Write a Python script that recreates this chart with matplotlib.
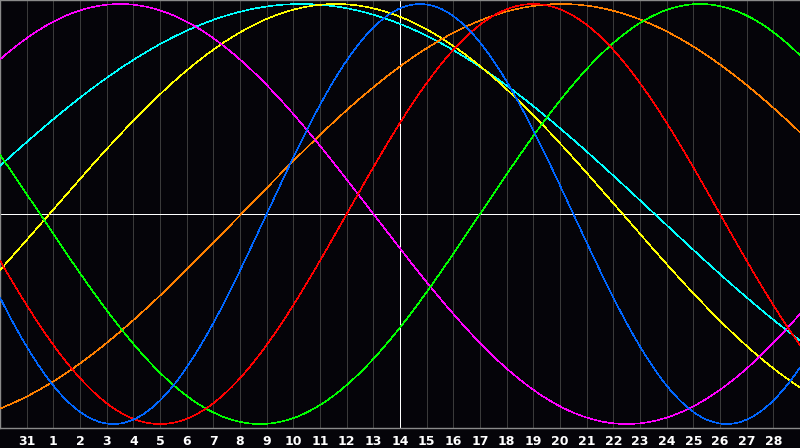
import numpy as np
import matplotlib
matplotlib.use("Agg")
import matplotlib.pyplot as plt

# Day labels under each grid line (positions 1..29 across a 30-day window)
day_labels = ["31"] + [str(d) for d in range(1, 29)]

# Cycles: period length (days) and position of the peak (in day-slots from left edge)
cycle_names = ["physical", "emotional", "intellectual", "intuitive", "aesthetic", "awareness", "spiritual"]
cycle_periods = [23, 28, 33, 38, 43, 48, 53]
cycle_peaks = [15.75, 20.0, 26.25, 4.5, 12.6, 21.05, 11.3]
cycle_colors = ["#0066ff", "#ff0000", "#00ff00", "#ff00ff", "#ffff00", "#ff8000", "#00ffff"]

BG = "#050409"

fig = plt.figure(figsize=(8, 4.48), dpi=100, facecolor=BG)
ax = fig.add_axes([0, 20 / 448, 1, 428 / 448])
ax.set_facecolor(BG)
ax.set_xlim(0, 30)
ax.set_ylim(-1.019, 1.019)

# grid
for i in range(1, 30):
    if i == 15:
        continue
    ax.axvline(i, color="#3a3a3a", lw=0.6, antialiased=False, zorder=1)
ax.axvline(15, color="white", lw=0.7, antialiased=False, zorder=1)
ax.axhline(0, color="white", lw=0.7, antialiased=False, zorder=1)

t = np.linspace(0, 30, 401)
order = [6, 4, 5, 3, 2, 1, 0]
for k in order:
    y = np.cos(2 * np.pi * (t - cycle_peaks[k]) / cycle_periods[k])
    ax.plot(t, y, color=cycle_colors[k], lw=0.4, antialiased=False, zorder=3)

for s in ["left", "top", "bottom"]:
    ax.spines[s].set_color("#8a8a8a")
    ax.spines[s].set_linewidth(1.0)
ax.spines["right"].set_visible(False)

ax.set_xticks(range(1, 30))
ax.set_xticklabels(day_labels)
ax.tick_params(axis="x", length=0, pad=5, colors="white", labelsize=9)
for lab in ax.get_xticklabels():
    lab.set_fontweight("bold")
    lab.set_family("DejaVu Sans")
ax.set_yticks([])

fig.savefig("out.png", dpi=100, facecolor=BG)
